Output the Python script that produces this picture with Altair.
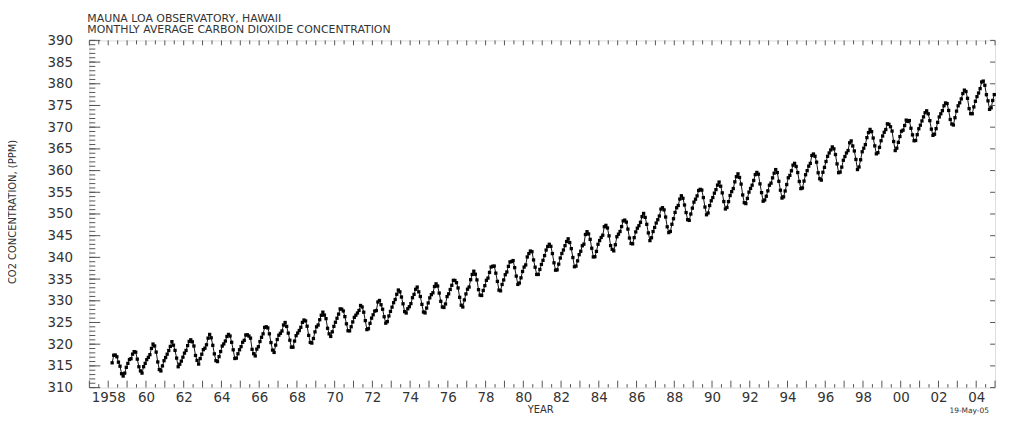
import altair as alt
import pandas as pd

# Monthly mean CO2 (ppm), Mauna Loa; 1958 starts in March
start_month_1958 = 3
co2_1958 = [315.71, 317.45, 317.50, 317.10, 315.86, 314.93, 313.20, 312.66, 313.33, 314.67]
co2_1959 = [315.58, 316.47, 316.65, 317.71, 318.29, 318.16, 316.55, 314.80, 313.84, 313.34, 314.81, 315.59]
co2_1960 = [316.43, 316.97, 317.58, 319.03, 320.03, 319.59, 318.18, 315.91, 314.16, 313.83, 315.00, 316.19]
co2_1961 = [316.93, 317.70, 318.54, 319.48, 320.58, 319.77, 318.57, 316.79, 314.80, 315.38, 316.10, 317.01]
co2_1962 = [317.94, 318.56, 319.68, 320.63, 321.01, 320.55, 319.58, 317.40, 316.26, 315.42, 316.69, 317.69]
co2_1963 = [318.74, 319.08, 319.86, 321.39, 322.25, 321.47, 319.74, 317.77, 316.21, 315.99, 317.12, 318.31]
co2_1964 = [319.57, 320.07, 320.73, 321.77, 322.25, 321.89, 320.44, 318.70, 316.70, 316.79, 317.79, 318.71]
co2_1965 = [319.44, 320.44, 320.89, 322.13, 322.16, 321.87, 321.39, 318.81, 317.81, 317.30, 318.87, 319.42]
co2_1966 = [320.62, 321.59, 322.39, 323.87, 324.01, 323.75, 322.39, 320.37, 318.64, 318.10, 319.79, 321.08]
co2_1967 = [322.07, 322.50, 323.04, 324.42, 325.00, 324.09, 322.55, 320.92, 319.31, 319.31, 320.72, 321.96]
co2_1968 = [322.57, 323.15, 323.89, 325.02, 325.57, 325.36, 324.14, 322.03, 320.41, 320.25, 321.31, 322.84]
co2_1969 = [324.00, 324.42, 325.64, 326.66, 327.38, 326.70, 325.89, 323.67, 322.38, 321.78, 322.85, 324.12]
co2_1970 = [325.06, 325.98, 326.93, 328.13, 328.07, 327.66, 326.35, 324.69, 323.10, 323.07, 324.01, 325.13]
co2_1971 = [326.17, 326.68, 327.18, 327.78, 328.92, 328.57, 327.37, 325.43, 323.36, 323.56, 324.80, 326.01]
co2_1972 = [326.77, 327.63, 327.75, 329.72, 330.07, 329.09, 328.05, 326.32, 324.84, 325.20, 326.50, 327.55]
co2_1973 = [328.54, 329.56, 330.30, 331.50, 332.48, 332.07, 330.87, 329.31, 327.51, 327.18, 328.16, 328.64]
co2_1974 = [329.35, 330.71, 331.48, 332.65, 333.16, 332.06, 330.99, 329.17, 327.41, 327.20, 328.33, 329.50]
co2_1975 = [330.68, 331.41, 331.85, 333.29, 333.91, 333.40, 331.78, 329.88, 328.57, 328.46, 329.26, 330.97]
co2_1976 = [331.60, 332.60, 333.57, 334.72, 334.68, 334.17, 332.96, 330.80, 328.98, 328.57, 330.20, 331.58]
co2_1977 = [332.67, 333.17, 334.86, 336.07, 336.82, 336.12, 334.81, 332.56, 331.30, 331.22, 332.37, 333.49]
co2_1978 = [334.71, 335.23, 336.54, 337.79, 337.95, 338.00, 336.37, 334.47, 332.46, 332.29, 333.76, 334.80]
co2_1979 = [336.00, 336.63, 337.93, 338.95, 339.05, 339.27, 337.64, 335.68, 333.77, 334.09, 335.29, 336.76]
co2_1980 = [337.77, 338.26, 340.10, 340.88, 341.47, 341.31, 339.41, 337.74, 336.07, 336.07, 337.22, 338.38]
co2_1981 = [339.32, 340.41, 341.69, 342.51, 343.02, 342.54, 340.88, 338.75, 337.05, 337.13, 338.45, 339.85]
co2_1982 = [340.90, 341.70, 342.70, 343.65, 344.28, 343.42, 342.02, 339.97, 337.84, 338.00, 339.20, 340.63]
co2_1983 = [341.41, 342.68, 343.04, 345.27, 345.92, 345.40, 344.16, 342.11, 340.11, 340.15, 341.38, 343.02]
co2_1984 = [343.87, 344.59, 345.11, 347.07, 347.38, 346.78, 344.96, 342.71, 341.86, 341.50, 342.91, 344.76]
co2_1985 = [345.35, 345.96, 347.10, 348.41, 348.59, 348.13, 346.52, 344.46, 343.21, 343.12, 344.55, 345.87]
co2_1986 = [346.72, 347.30, 348.08, 349.40, 350.13, 349.22, 347.62, 345.64, 343.86, 344.52, 345.96, 346.89]
co2_1987 = [347.92, 348.68, 349.53, 351.13, 351.45, 350.95, 349.30, 347.05, 345.71, 345.98, 347.63, 348.91]
co2_1988 = [350.36, 351.43, 351.96, 353.44, 354.20, 353.62, 352.07, 350.33, 348.69, 348.52, 349.99, 351.35]
co2_1989 = [352.73, 353.40, 354.17, 355.41, 355.68, 355.50, 353.78, 351.60, 349.82, 350.23, 351.95, 353.04]
co2_1990 = [353.79, 354.80, 355.61, 356.66, 357.36, 356.40, 354.87, 352.87, 351.16, 351.51, 352.85, 354.25]
co2_1991 = [355.14, 355.86, 357.41, 358.59, 359.25, 358.42, 356.89, 354.38, 352.60, 352.39, 353.59, 355.04]
co2_1992 = [355.88, 356.63, 357.72, 359.07, 359.58, 359.17, 356.94, 354.92, 352.94, 353.23, 354.09, 355.33]
co2_1993 = [356.63, 357.10, 358.32, 359.41, 360.23, 359.55, 357.53, 355.48, 353.67, 353.95, 355.30, 356.78]
co2_1994 = [358.34, 358.89, 359.95, 361.25, 361.67, 360.94, 359.55, 357.49, 355.84, 356.00, 357.58, 359.04]
co2_1995 = [359.98, 361.03, 361.66, 363.48, 363.82, 363.30, 361.94, 359.50, 358.11, 357.80, 359.61, 360.74]
co2_1996 = [362.09, 363.29, 364.06, 364.76, 365.45, 365.01, 363.70, 361.54, 359.51, 359.65, 360.80, 362.38]
co2_1997 = [363.23, 364.06, 364.61, 366.40, 366.84, 365.68, 364.52, 362.57, 360.24, 360.83, 362.49, 364.34]
co2_1998 = [365.16, 365.98, 367.59, 368.75, 369.49, 368.98, 367.50, 365.70, 363.86, 364.13, 365.36, 366.87]
co2_1999 = [367.97, 368.83, 369.46, 370.77, 370.66, 370.10, 369.10, 366.70, 364.61, 365.17, 366.51, 367.85]
co2_2000 = [369.07, 369.32, 370.38, 371.63, 371.32, 371.53, 369.75, 368.23, 366.87, 366.94, 368.27, 369.64]
co2_2001 = [370.46, 371.44, 372.37, 373.33, 373.77, 373.09, 371.51, 369.55, 368.12, 368.38, 369.66, 371.11]
co2_2002 = [372.36, 373.09, 373.81, 374.93, 375.58, 375.44, 373.86, 371.77, 370.73, 370.50, 372.18, 373.70]
co2_2003 = [374.92, 375.62, 376.51, 377.75, 378.54, 378.21, 376.65, 374.28, 373.12, 373.10, 374.67, 375.97]
co2_2004 = [377.03, 377.87, 378.88, 380.42, 380.62, 379.66, 377.48, 376.07, 374.10, 374.47, 376.15, 377.51]

yearly = {
    1958: co2_1958, 1959: co2_1959, 1960: co2_1960, 1961: co2_1961, 1962: co2_1962,
    1963: co2_1963, 1964: co2_1964, 1965: co2_1965, 1966: co2_1966, 1967: co2_1967,
    1968: co2_1968, 1969: co2_1969, 1970: co2_1970, 1971: co2_1971, 1972: co2_1972,
    1973: co2_1973, 1974: co2_1974, 1975: co2_1975, 1976: co2_1976, 1977: co2_1977,
    1978: co2_1978, 1979: co2_1979, 1980: co2_1980, 1981: co2_1981, 1982: co2_1982,
    1983: co2_1983, 1984: co2_1984, 1985: co2_1985, 1986: co2_1986, 1987: co2_1987,
    1988: co2_1988, 1989: co2_1989, 1990: co2_1990, 1991: co2_1991, 1992: co2_1992,
    1993: co2_1993, 1994: co2_1994, 1995: co2_1995, 1996: co2_1996, 1997: co2_1997,
    1998: co2_1998, 1999: co2_1999, 2000: co2_2000, 2001: co2_2001, 2002: co2_2002,
    2003: co2_2003, 2004: co2_2004,
}

rows = []
for yr, vals in yearly.items():
    first = start_month_1958 if yr == 1958 else 1
    for i, v in enumerate(vals):
        m = first + i
        rows.append({"t": yr + (m - 0.5) / 12.0, "co2": v})
df = pd.DataFrame(rows)

# axis tick labels
x_label_years = list(range(1958, 2005, 2))
x_label_text = ["1958", "60", "62", "64", "66", "68", "70", "72", "74", "76", "78", "80",
                "82", "84", "86", "88", "90", "92", "94", "96", "98", "00", "02", "04"]
y_label_values = list(range(310, 391, 5))
x_major = list(range(1957, 2006))
x_minor = [y + 0.5 for y in range(1957, 2005)]
y_minor = list(range(310, 391))
y_major = list(range(310, 391, 5))

W, H = 913, 350
XD = [1957, 2005]
YD = [310, 390]
FONT = "DejaVu Sans"
INK = "#333333"

xs = alt.Scale(domain=XD, nice=False, zero=False)
ys = alt.Scale(domain=YD, nice=False, zero=False)

label_expr = "[" + ",".join("'%s'" % s for s in x_label_text) + "][round((datum.value-1958)/2)]"

ax_x = alt.Axis(values=x_label_years, labelExpr=label_expr, ticks=False, domain=False,
                grid=False, labelFont=FONT, labelFontSize=13.5, labelColor=INK,
                labelPadding=3, title=None)
ax_y = alt.Axis(values=y_label_values, ticks=False, domain=False, grid=False,
                labelFont=FONT, labelFontSize=13.5, labelColor=INK,
                labelPadding=17, title=None)

base = alt.Chart(df)
line = base.mark_line(color="#111111", strokeWidth=1).encode(
    x=alt.X("t:Q", scale=xs, axis=ax_x),
    y=alt.Y("co2:Q", scale=ys, axis=ax_y),
)
pts = base.mark_point(filled=True, shape="square", size=11, color="#000000", opacity=1).encode(
    x=alt.X("t:Q", scale=xs, axis=ax_x),
    y=alt.Y("co2:Q", scale=ys, axis=ax_y),
)

def xticks(vals, y0, y1):
    return alt.Chart(pd.DataFrame({"t": vals})).mark_rule(color="#555555", strokeWidth=1).encode(
        x=alt.X("t:Q", scale=xs, axis=ax_x), y=alt.value(y0), y2=alt.value(y1))

def yticks(vals, x0, x1):
    return alt.Chart(pd.DataFrame({"co2": vals})).mark_rule(color="#555555", strokeWidth=1).encode(
        y=alt.Y("co2:Q", scale=ys, axis=ax_y), x=alt.value(x0), x2=alt.value(x1))

ticks = [
    xticks(x_major, H, H - 7), xticks(x_minor, H, H - 3.5),
    xticks(x_major, 0, 5), xticks(x_minor, 0, 4),
    yticks(y_minor, 0, 6), yticks(y_major, 0, 11),
    yticks(y_major, W, W - 5),
]

def label(text, x, y, size, align="left", angle=0, color=INK):
    return alt.Chart(pd.DataFrame({"s": [text]})).mark_text(
        font=FONT, fontSize=size, align=align, baseline="middle", angle=angle, color=color
    ).encode(x=alt.value(x), y=alt.value(y), text="s:N")

texts = [
    label("MAUNA LOA OBSERVATORY, HAWAII", -2, -22, 11),
    label("MONTHLY AVERAGE CARBON DIOXIDE CONCENTRATION", -2, -10.5, 11),
    label("CO2 CONCENTRATION, (PPM)", -77, 173, 10, align="center", angle=270),
    label("YEAR", 455, 373, 10, align="center"),
    label("19-May-05", 867, 374, 7.5, align="left"),
]

chart = alt.layer(line, pts, *ticks, *texts).properties(
    width=W, height=H,
    autosize=alt.AutoSizeParams(type="none"),
    padding={"left": 82, "top": 31, "right": 8, "bottom": 27},
).configure_view(stroke="#555555", strokeWidth=1).configure(background="white")

chart.save("out.html", embed_options={"renderer": "svg", "actions": False})
